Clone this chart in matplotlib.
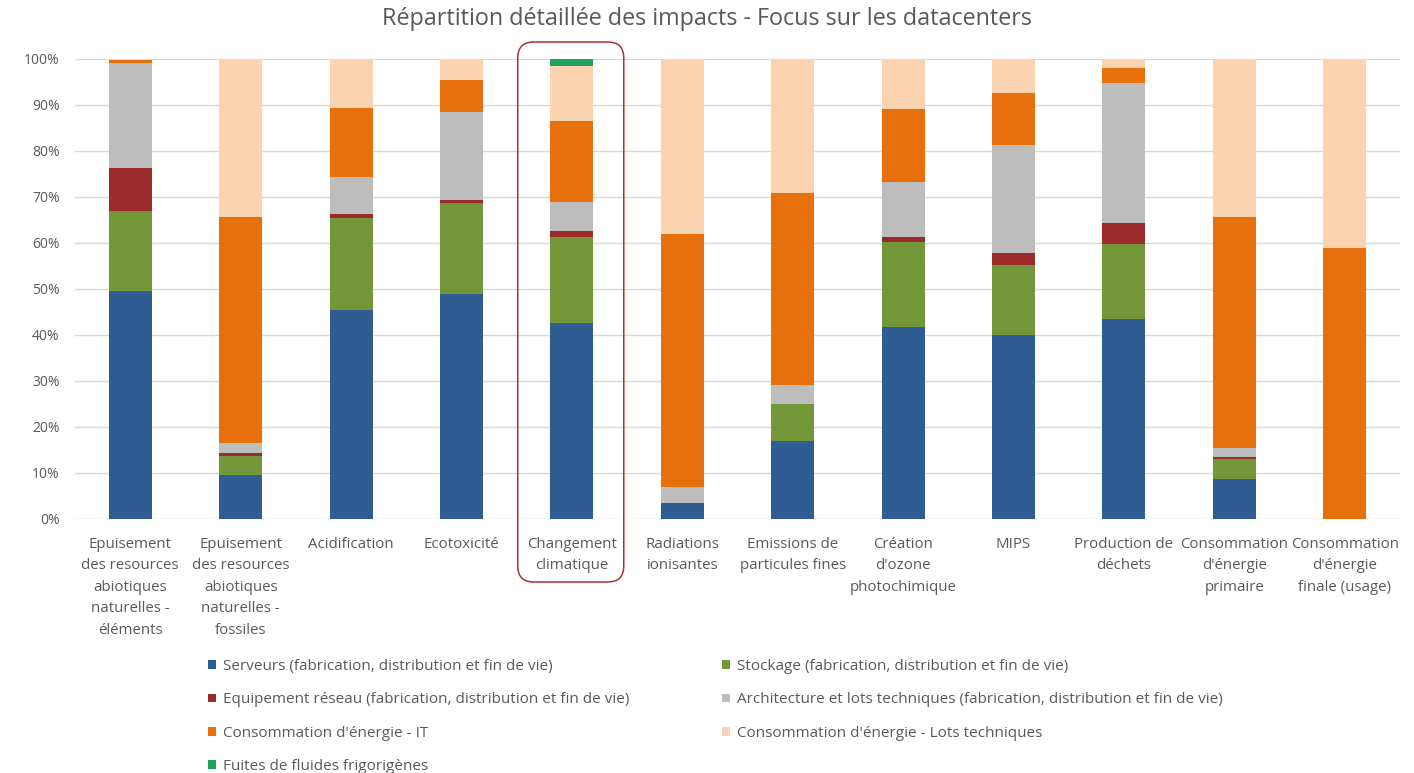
import matplotlib
matplotlib.use("Agg")
import matplotlib.pyplot as plt
import numpy as np
from matplotlib.patches import FancyBboxPatch
from matplotlib.transforms import IdentityTransform

plt.rcParams['font.family'] = ['Open Sans', 'DejaVu Sans']

categories = [
    "Epuisement\ndes resources\nabiotiques\nnaturelles -\néléments",
    "Epuisement\ndes resources\nabiotiques\nnaturelles -\nfossiles",
    "Acidification",
    "Ecotoxicité",
    "Changement\nclimatique",
    "Radiations\nionisantes",
    "Emissions de\nparticules fines",
    "Création\nd'ozone\nphotochimique",
    "MIPS",
    "Production de\ndéchets",
    "Consommation\nd'énergie\nprimaire",
    "Consommation\nd'énergie\nfinale (usage)",
]

# Share of each contributor per impact category (%)
serveurs      = [49.5,  9.6, 45.4, 48.9, 42.7,  3.5, 17.0, 41.8, 40.0, 43.4,  8.8,  0.0]
stockage      = [17.5,  4.2, 20.0, 19.7, 18.7,  0.0,  7.9, 18.5, 15.2, 16.3,  4.2,  0.0]
reseau        = [ 9.2,  0.5,  0.9,  0.7,  1.1,  0.0,  0.2,  0.9,  2.6,  4.7,  0.5,  0.0]
architecture  = [22.9,  2.2,  8.1, 19.2,  6.5,  3.5,  4.0, 12.1, 23.5, 30.3,  2.0,  0.0]
energie_it    = [ 0.6, 49.2, 14.9,  6.9, 17.5, 55.0, 41.7, 15.8, 11.2,  3.3, 50.1, 59.0]
energie_lots  = [ 0.3, 34.3, 10.7,  4.6, 12.0, 38.0, 29.2, 10.9,  7.5,  2.0, 34.4, 41.0]
fuites        = [ 0.0,  0.0,  0.0,  0.0,  1.5,  0.0,  0.0,  0.0,  0.0,  0.0,  0.0,  0.0]

series = [
    ("Serveurs (fabrication, distribution et fin de vie)", serveurs, "#2F5D93"),
    ("Stockage (fabrication, distribution et fin de vie)", stockage, "#739639"),
    ("Equipement réseau (fabrication, distribution et fin de vie)", reseau, "#9B2B2B"),
    ("Architecture et lots techniques (fabrication, distribution et fin de vie)", architecture, "#BDBDBD"),
    ("Consommation d'énergie - IT", energie_it, "#E8700C"),
    ("Consommation d'énergie - Lots techniques", energie_lots, "#FBD3B0"),
    ("Fuites de fluides frigorigènes", fuites, "#1BA55B"),
]

TEXT = "#595959"

fig = plt.figure(figsize=(14.14, 7.73), dpi=100)
ax = fig.add_axes([75 / 1414, 1 - 519 / 773, 1325 / 1414, 460 / 773])

x = np.arange(len(categories))
bottom = np.zeros(len(categories))
handles = {}
for label, vals, color in series:
    v = np.array(vals) / 100.0
    b = ax.bar(x, v, bottom=bottom, width=0.39, color=color, label=label, zorder=3)
    handles[label] = b
    bottom += v

ax.set_xlim(-0.5, len(categories) - 0.5)
ax.set_ylim(0, 1.0)
ticks = np.arange(0, 1.01, 0.1)
ax.set_yticks(ticks)
ax.set_yticklabels([f"{int(round(t * 100))}%" for t in ticks], fontsize=10, color=TEXT)
ax.set_xticks(x)
ax.set_xticklabels(categories, fontsize=10.8, color=TEXT, linespacing=1.58, va="top")
ax.tick_params(axis="both", length=0)
ax.tick_params(axis="x", pad=13)
ax.tick_params(axis="y", pad=11)
ax.grid(axis="y", color="#D9D9D9", linewidth=1, zorder=0)
ax.set_axisbelow(True)
for s in ax.spines.values():
    s.set_visible(False)

fig.text(0.5, 1 - 19 / 773, "Répartition détaillée des impacts - Focus sur les datacenters",
         ha="center", va="center", fontsize=16.8, color=TEXT)

# Highlight frame around the climate change category
fig.canvas.draw()
x0, _ = ax.transData.transform((4 - 0.49, 0))
x1, _ = ax.transData.transform((4 + 0.47, 0))
y_top = ax.transAxes.transform((0, 1))[1] + 17
y_bot = ax.transAxes.transform((0, 0))[1] - 63
frame = FancyBboxPatch((x0, y_bot), x1 - x0, y_top - y_bot,
                       boxstyle="round,pad=0,rounding_size=16",
                       transform=IdentityTransform(), fill=False,
                       edgecolor="#A93232", linewidth=1.1, zorder=10)
fig.patches.append(frame)

col1 = [series[i][0] for i in (0, 2, 4, 6)]
col2 = [series[i][0] for i in (1, 3, 5)]
leg_kw = dict(frameon=False, fontsize=11, labelcolor=TEXT, handlelength=0.5,
              handleheight=0.5, handletextpad=0.45, labelspacing=1.2,
              borderpad=0, borderaxespad=0, loc="upper left")
leg1 = fig.legend([handles[l] for l in col1], col1,
                  bbox_to_anchor=(208 / 1414, 1 - 659 / 773), **leg_kw)
leg2 = fig.legend([handles[l] for l in col2], col2,
                  bbox_to_anchor=(722 / 1414, 1 - 659 / 773), **leg_kw)

fig.savefig("out.png", dpi=100)
